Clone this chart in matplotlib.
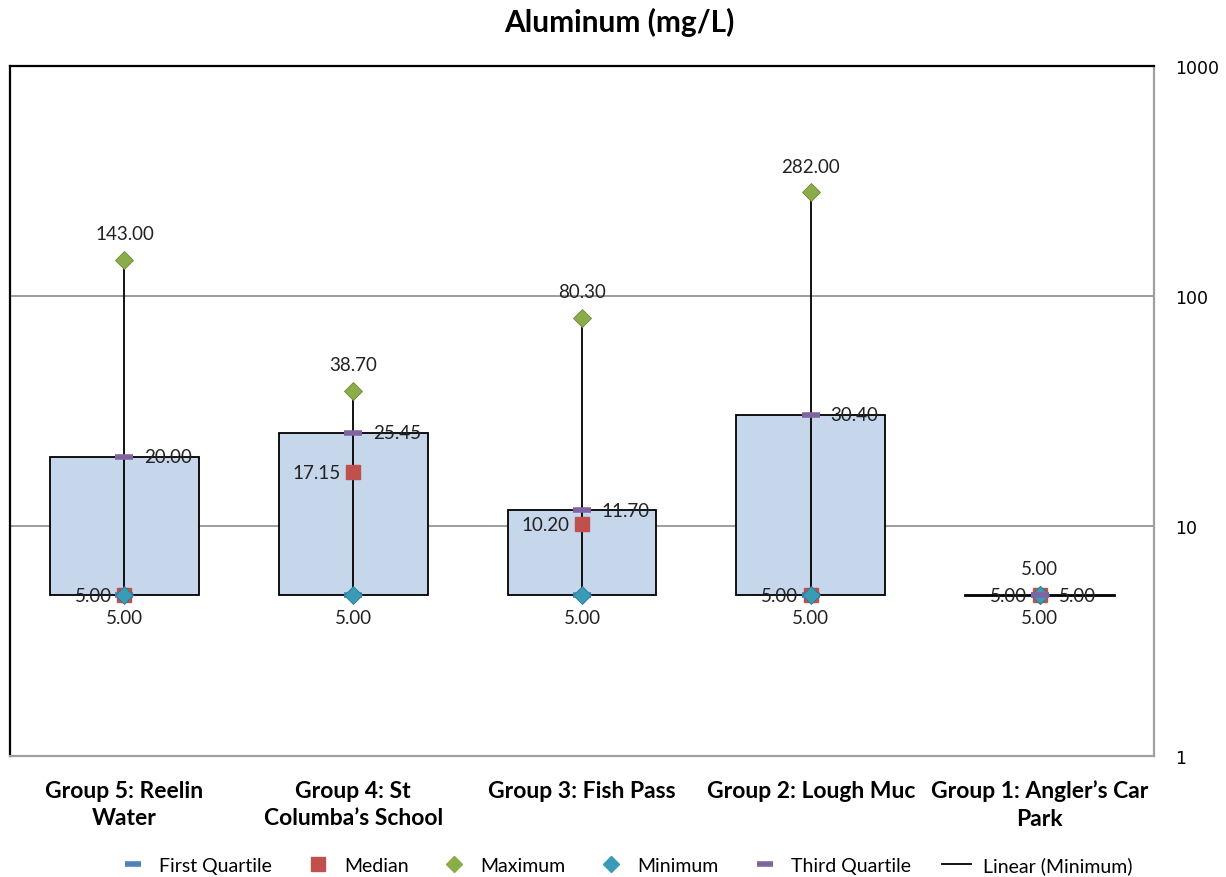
import matplotlib.pyplot as plt
from matplotlib.lines import Line2D
from matplotlib.ticker import FixedLocator, NullLocator

plt.rcParams['font.family'] = ['Lato', 'DejaVu Sans']

groups = ["Group 5: Reelin\nWater", "Group 4: St\nColumba\u2019s School",
          "Group 3: Fish Pass", "Group 2: Lough Muc",
          "Group 1: Angler\u2019s Car\nPark"]
minimum = [5.00, 5.00, 5.00, 5.00, 5.00]
first_q = [5.00, 5.00, 5.00, 5.00, 5.00]
median = [5.00, 17.15, 10.20, 5.00, 5.00]
third_q = [20.00, 25.45, 11.70, 30.40, 5.00]
maximum = [143.00, 38.70, 80.30, 282.00, 5.00]

fig = plt.figure(figsize=(12.26, 8.78), dpi=100)
ax = fig.add_axes([10 / 1226, 121 / 878, 1144 / 1226, 690 / 878])
ax.set_yscale('log')
ax.set_ylim(1, 1000)
ax.set_xlim(-0.5, len(groups) - 0.5)

xs = list(range(len(groups)))

# boxes from first to third quartile
for x, q1, q3 in zip(xs, first_q, third_q):
    if q3 > q1:
        ax.bar(x, q3 - q1, bottom=q1, width=0.65, color='#c6d6eb',
               edgecolor='black', linewidth=1.3, zorder=2)
    else:
        ax.plot([x - 0.325, x + 0.325], [q1, q1], color='black', lw=2, zorder=2)

# whiskers
for x, lo, hi in zip(xs, minimum, maximum):
    ax.plot([x, x], [lo, hi], color='black', lw=1.3, zorder=3)

ax.plot(xs, first_q, ls='none', marker='_', ms=13, mew=4, color='#4f81bd', zorder=4)
ax.plot(xs, median, ls='none', marker='s', ms=10, color='#c0504d', zorder=5)
ax.plot(xs, maximum, ls='none', marker='D', ms=9, color='#8aad4a',
        mec='#6b8a35', mew=0.6, zorder=6)
ax.plot(xs, minimum, ls='none', marker='D', ms=9, color='#3a9bb8',
        mec='#2a7890', mew=0.6, zorder=6)
ax.plot(xs, third_q, ls='none', marker='_', ms=13, mew=4, color='#8064a2', zorder=7)

lbl = dict(fontsize=13.5, color='#222222', zorder=8)
for i, x in enumerate(xs):
    ax.annotate(f"{maximum[i]:.2f}", (x, maximum[i]), xytext=(0, 19),
                textcoords='offset points', ha='center', va='center', **lbl)
    ax.annotate(f"{minimum[i]:.2f}", (x, minimum[i]), xytext=(0, -16),
                textcoords='offset points', ha='center', va='center', **lbl)
    ax.annotate(f"{median[i]:.2f}", (x, median[i]), xytext=(-9, 0),
                textcoords='offset points', ha='right', va='center', **lbl)
    ax.annotate(f"{third_q[i]:.2f}", (x, third_q[i]), xytext=(14, 0),
                textcoords='offset points', ha='left', va='center', **lbl)

# gridlines
ax.yaxis.set_major_locator(FixedLocator([1, 10, 100, 1000]))
ax.yaxis.set_minor_locator(NullLocator())
for g in (10, 100):
    ax.axhline(g, color='#8c8c8c', lw=1.2, zorder=1)

ax.yaxis.tick_right()
ax.set_yticklabels(['1', '10', '100', '1000'], family='DejaVu Sans', fontsize=12.5)
ax.tick_params(axis='y', length=0, pad=15)
ax.set_xticks(xs)
ax.set_xticklabels(groups, fontsize=16.5, fontweight='bold', linespacing=1.4)
ax.tick_params(axis='x', length=0, pad=17)

ax.spines['left'].set_color('black')
ax.spines['top'].set_color('black')
ax.spines['left'].set_linewidth(1.6)
ax.spines['top'].set_linewidth(1.6)
ax.spines['right'].set_color('#a0a0a0')
ax.spines['bottom'].set_color('#a0a0a0')
ax.spines['right'].set_linewidth(1.6)
ax.spines['bottom'].set_linewidth(1.6)

fig.text(0.505, 1 - 22 / 878, "Aluminum (mg/L)", ha='center', va='center',
         fontsize=21.5, fontweight='bold')

handles = [
    Line2D([], [], ls='none', marker='_', ms=12, mew=4, color='#4f81bd'),
    Line2D([], [], ls='none', marker='s', ms=10, color='#c0504d'),
    Line2D([], [], ls='none', marker='D', ms=8, color='#8aad4a'),
    Line2D([], [], ls='none', marker='D', ms=8, color='#3a9bb8'),
    Line2D([], [], ls='none', marker='_', ms=12, mew=4, color='#8064a2'),
    Line2D([], [], color='black', lw=1.3),
]
names = ["First Quartile", "Median", "Maximum", "Minimum", "Third Quartile",
         "Linear (Minimum)"]
fig.legend(handles, names, loc='center', bbox_to_anchor=(0.51, 1 - 866 / 878),
           ncol=6, frameon=False, fontsize=14, handlelength=1.5,
           columnspacing=1.6, handletextpad=0.6)

fig.savefig('out.png', dpi=100)
